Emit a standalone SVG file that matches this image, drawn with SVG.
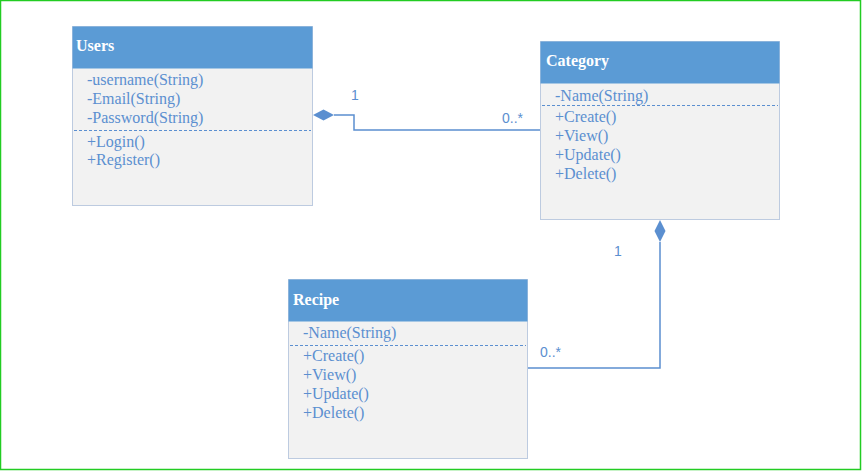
<svg xmlns="http://www.w3.org/2000/svg" width="862" height="472" viewBox="0 0 862 472">
<style>
.body{fill:#f2f2f2;stroke:#bdcbe0;stroke-width:1}
.head{fill:#5b9bd5}
.title{font-family:"Liberation Serif",serif;font-size:16px;font-weight:bold;fill:#ffffff}
.mem{font-family:"Liberation Serif",serif;font-size:16px;fill:#5b8fd0}
.sep{stroke:#5b8fd0;stroke-width:1;stroke-dasharray:3 2}
.lbl{font-family:"Liberation Sans",Arial,sans-serif;font-size:14px;fill:#5b8fd0}
.conn{fill:none;stroke:#5b8fd0;stroke-width:1.5}
.dia{fill:#5b8fd0}
</style>
<rect x="0" y="0" width="862" height="472" fill="#ffffff"/>
<rect x="0.5" y="0.5" width="860" height="469" fill="none" stroke="#22cc22" stroke-width="1.5"/>
<g id="users">
<rect class="body" x="72.5" y="26.5" width="240" height="179"/>
<rect class="head" x="72.5" y="26.5" width="240" height="42"/>
<text class="title" x="76" y="51">Users</text>
<text class="mem" x="87" y="85">-username(String)</text>
<text class="mem" x="87" y="104">-Email(String)</text>
<text class="mem" x="87" y="123">-Password(String)</text>
<line class="sep" x1="74" y1="130.5" x2="311" y2="130.5"/>
<text class="mem" x="87" y="147">+Login()</text>
<text class="mem" x="87" y="165">+Register()</text>
</g>
<g id="category">
<rect class="body" x="540.5" y="41.5" width="239" height="178"/>
<rect class="head" x="540.5" y="41.5" width="239" height="42"/>
<text class="title" x="546" y="66">Category</text>
<text class="mem" x="555" y="101">-Name(String)</text>
<line class="sep" x1="542" y1="105.5" x2="778" y2="105.5"/>
<text class="mem" x="555" y="122">+Create()</text>
<text class="mem" x="555" y="141">+View()</text>
<text class="mem" x="555" y="160">+Update()</text>
<text class="mem" x="555" y="179">+Delete()</text>
</g>
<g id="recipe">
<rect class="body" x="288.5" y="279.5" width="239" height="179"/>
<rect class="head" x="288.5" y="279.5" width="239" height="42"/>
<text class="title" x="293" y="305">Recipe</text>
<text class="mem" x="303" y="338">-Name(String)</text>
<line class="sep" x1="290" y1="345.5" x2="526" y2="345.5"/>
<text class="mem" x="303" y="361">+Create()</text>
<text class="mem" x="303" y="380">+View()</text>
<text class="mem" x="303" y="399">+Update()</text>
<text class="mem" x="303" y="418">+Delete()</text>
</g>
<g id="connectors">
<polyline class="conn" points="334,115 354,115 354,130 540,130"/>
<polygon class="dia" points="313,115 323.5,109.5 334,115 323.5,120.5"/>
<text class="lbl" x="351" y="100">1</text>
<text class="lbl" x="502" y="123">0..*</text>
<polyline class="conn" points="660,242 660,368 528,368"/>
<polygon class="dia" points="660,220 665.5,231 660,242 654.5,231"/>
<text class="lbl" x="614" y="256">1</text>
<text class="lbl" x="540" y="357">0..*</text>
</g>
</svg>
